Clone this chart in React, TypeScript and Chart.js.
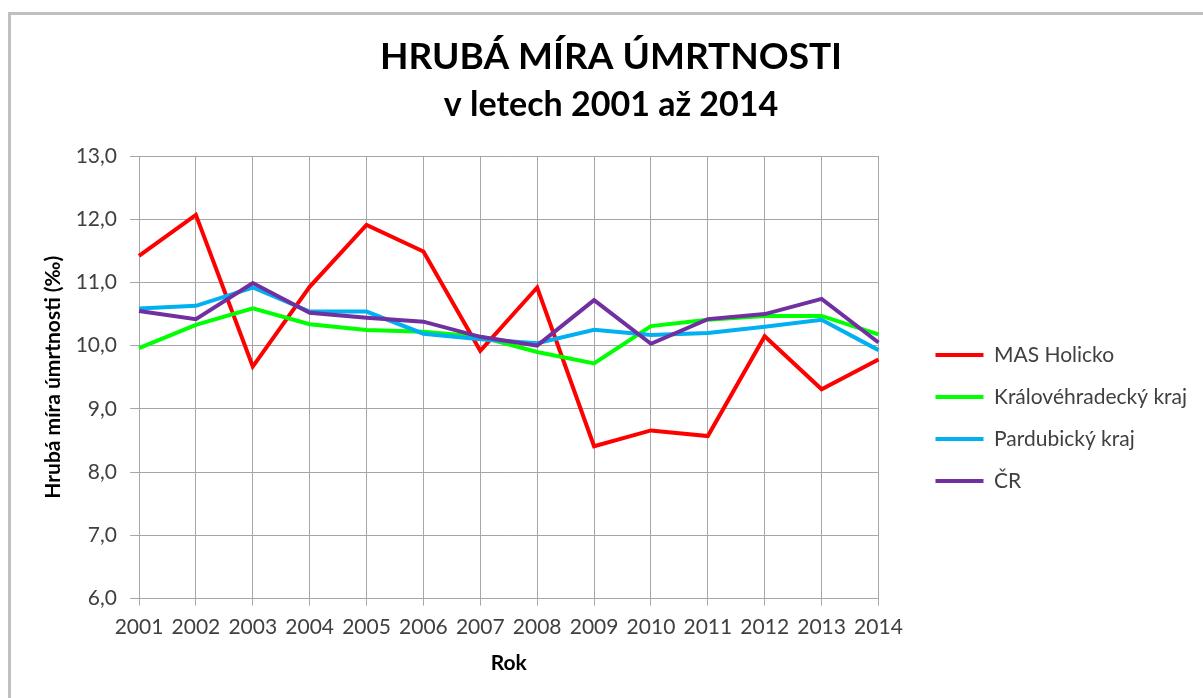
import React, { useEffect, useRef } from 'react';
import { Chart, registerables } from 'chart.js';

Chart.register(...registerables);

const years = ['2001', '2002', '2003', '2004', '2005', '2006', '2007', '2008', '2009', '2010', '2011', '2012', '2013', '2014'];
const masHolicko = [11.42, 12.07, 9.67, 10.93, 11.91, 11.49, 9.92, 10.92, 8.41, 8.66, 8.57, 10.15, 9.31, 9.78];
const kralovehradecky = [9.96, 10.33, 10.59, 10.34, 10.25, 10.22, 10.14, 9.9, 9.72, 10.31, 10.41, 10.47, 10.47, 10.18];
const pardubicky = [10.59, 10.63, 10.92, 10.54, 10.54, 10.19, 10.1, 10.04, 10.25, 10.17, 10.2, 10.3, 10.41, 9.93];
const cr = [10.55, 10.42, 10.99, 10.52, 10.44, 10.38, 10.14, 10.0, 10.72, 10.03, 10.42, 10.5, 10.74, 10.05];

const seriesNames = ['MAS Holicko', 'Královéhradecký kraj', 'Pardubický kraj', 'ČR'];
const seriesColors = ['#ff0000', '#00ff00', '#00b0f0', '#7030a0'];
const titleText = 'HRUBÁ MÍRA ÚMRTNOSTI';
const subtitleText = 'v letech 2001 až 2014';
const yAxisTitle = 'Hrubá míra úmrtnosti (‰)';
const xAxisTitle = 'Rok';

const FONT = 'Lato';
const CANVAS_W = 1192;
const CANVAS_H = 683;
const PAD_LEFT = 14;
const LEG_FONT = 21;
const LEG_PAD = 21;
const LEG_BOX = 48;
const LEGEND_LEFT = 903;
const PLOT_RIGHT = 867;

export default function App() {
  const ref = useRef<HTMLCanvasElement | null>(null);

  useEffect(() => {
    if (!ref.current) return;
    const mctx = document.createElement('canvas').getContext('2d')!;
    mctx.font = `${LEG_FONT}px ${FONT}`;
    const tw = Math.max(...seriesNames.map((n) => mctx.measureText(n).width));
    const legendW = Math.ceil(LEG_PAD + LEG_BOX + LEG_FONT / 2 + tw + 10);
    let padR = CANVAS_W - LEGEND_LEFT - legendW;
    let gapW = LEGEND_LEFT - PLOT_RIGHT;
    if (padR < 0) {
      gapW = Math.max(0, gapW + padR);
      padR = 0;
    }

    const data = [masHolicko, kralovehradecky, pardubicky, cr];
    const chart = new Chart(ref.current, {
      type: 'line',
      data: {
        labels: years,
        datasets: data.map((d, i) => ({
          label: seriesNames[i],
          data: d,
          borderColor: seriesColors[i],
          backgroundColor: seriesColors[i],
          borderWidth: 4,
          pointRadius: 0,
          tension: 0,
          fill: false,
          order: data.length - i,
        })),
      },
      options: {
        animation: false,
        responsive: true,
        maintainAspectRatio: false,
        layout: { padding: { left: PAD_LEFT, top: 0, right: padR, bottom: 18 } },
        plugins: {
          tooltip: { enabled: false },
          title: {
            display: true,
            text: titleText,
            color: '#000000',
            font: { family: FONT, size: 37, weight: 'bold', lineHeight: 48 / 37 },
            padding: { top: 18, bottom: 0 },
          },
          subtitle: {
            display: true,
            text: subtitleText,
            color: '#000000',
            font: { family: FONT, size: 34, weight: 'bold', lineHeight: 48 / 34 },
            padding: { top: 0, bottom: 27 },
          },
          legend: {
            display: true,
            position: 'right',
            maxWidth: legendW + 2,
            title: { display: true, text: ' ', font: { family: FONT, size: 10, lineHeight: 1 }, padding: { top: 131, bottom: 0 } },
            labels: {
              boxWidth: LEG_BOX,
              boxHeight: 4,
              padding: LEG_PAD,
              color: '#404040',
              font: { family: FONT, size: LEG_FONT },
              sort: (a: any, b: any) => a.datasetIndex - b.datasetIndex,
              generateLabels: (c: any) => {
                const items = Chart.defaults.plugins.legend.labels.generateLabels(c);
                return items.map((it: any) => ({
                  ...it,
                  fillStyle: seriesColors[it.datasetIndex],
                  strokeStyle: seriesColors[it.datasetIndex],
                  lineWidth: 0,
                }));
              },
            },
          },
        },
        scales: {
          x: {
            type: 'category',
            offset: false,
            grid: { display: true, color: '#a6a6a6', lineWidth: 1, tickLength: 7, drawTicks: true },
            border: { display: true, color: '#a6a6a6' },
            ticks: {
              color: '#404040',
              font: { family: FONT, size: 21 },
              padding: 9,
              maxRotation: 0,
              autoSkip: false,
            },
            title: {
              display: true,
              text: xAxisTitle,
              color: '#000000',
              font: { family: FONT, size: 21, weight: 'bold' },
              padding: { top: 2, bottom: 4 },
            },
          },
          y: {
            type: 'linear',
            min: 6,
            max: 13,
            grid: { display: true, color: '#a6a6a6', lineWidth: 1, tickLength: 9, drawTicks: true },
            border: { display: true, color: '#a6a6a6' },
            ticks: {
              stepSize: 1,
              color: '#404040',
              font: { family: FONT, size: 21 },
              padding: 13,
              callback: (v: any) => Number(v).toFixed(1).replace('.', ','),
            },
            title: {
              display: true,
              text: yAxisTitle,
              color: '#000000',
              font: { family: FONT, size: 21, weight: 'bold' },
              padding: { top: 16, bottom: 0 },
            },
            afterFit: (s: any) => {
              s.width = 128 - PAD_LEFT;
            },
          },
          gap: {
            type: 'linear',
            position: 'right',
            display: true,
            grid: { display: false, drawTicks: false },
            border: { display: false },
            ticks: { display: false },
            afterFit: (s: any) => {
              s.width = gapW;
            },
          },
        },
      },
    } as any);
    return () => chart.destroy();
  }, []);

  return (
    <div
      style={{
        position: 'absolute',
        left: 8,
        top: 12,
        width: 1195,
        height: 686,
        borderLeft: '3px solid #c0c0c0',
        borderTop: '3px solid #c0c0c0',
        boxSizing: 'border-box',
        background: '#ffffff',
      }}
    >
      <div style={{ position: 'relative', width: CANVAS_W, height: CANVAS_H }}>
        <canvas ref={ref} />
      </div>
    </div>
  );
}
